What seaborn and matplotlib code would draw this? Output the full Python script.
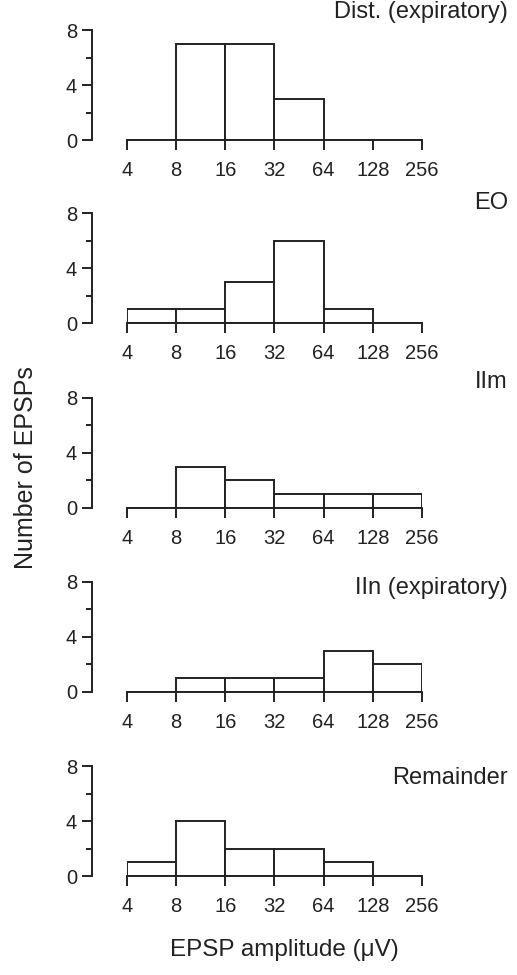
import numpy as np
import pandas as pd
import seaborn as sns
import matplotlib.pyplot as plt
from matplotlib.ticker import MultipleLocator

# bin edges as powers of two (EPSP amplitude, uV)
edge_labels = ["4", "8", "16", "32", "64", "128", "256"]
exponents = [2, 3, 4, 5, 6, 7, 8]

# counts per bin [4-8, 8-16, 16-32, 32-64, 64-128, 128-256]
panels = ["Dist. (expiratory)", "EO", "IIm", "IIn (expiratory)", "Remainder"]
dist_counts = [0, 7, 7, 3, 0, 0]
eo_counts = [1, 1, 3, 6, 1, 0]
iim_counts = [0, 3, 2, 1, 1, 1]
iin_counts = [0, 1, 1, 1, 3, 2]
rem_counts = [1, 4, 2, 2, 1, 0]
all_counts = [dist_counts, eo_counts, iim_counts, iin_counts, rem_counts]

sns.set_style("ticks")
plt.rcParams["font.family"] = ["Liberation Sans", "DejaVu Sans"]

fig = plt.figure(figsize=(5.17, 9.75), dpi=100)

# bottom of each panel (figure fraction) and label heights (axes fraction)
bottoms = [0.8564, 0.6687, 0.4790, 0.2903, 0.1015]
label_y = [1.164, 1.09, 1.145, 0.945, 0.89]

centers = [(a + b) / 2 for a, b in zip(exponents[:-1], exponents[1:])]
lw = 1.4

for name, counts, b, ly in zip(panels, all_counts, bottoms, label_y):
    ax = fig.add_axes([0.2456, b, 0.5706, 0.1128])
    df = pd.DataFrame({"bin": centers, "n": counts})
    sns.histplot(data=df, x="bin", weights="n", bins=exponents, ax=ax,
                 color="white", edgecolor="#222222", linewidth=lw, alpha=1)
    ax.set_xlim(2, 8)
    ax.set_ylim(0, 8)
    ax.set_xticks(exponents)
    ax.set_xticklabels(edge_labels)
    ax.set_yticks([0, 4, 8])
    ax.set_yticklabels(["0", "4", "8"])
    ax.yaxis.set_minor_locator(MultipleLocator(2))
    ax.tick_params(axis="x", direction="out", length=7, width=lw, pad=8,
                   labelsize=14.5, colors="#222222")
    ax.tick_params(axis="y", which="major", direction="out", length=7,
                   width=lw, pad=4, labelsize=14.5, colors="#222222")
    ax.tick_params(axis="y", which="minor", direction="out", length=4.5,
                   width=lw, colors="#222222")
    sns.despine(ax=ax)
    ax.spines["left"].set_position(("outward", 25))
    for s in ["left", "bottom"]:
        ax.spines[s].set_linewidth(lw)
        ax.spines[s].set_color("#222222")
    ax.set_xlabel("")
    ax.set_ylabel("")
    ax.patch.set_alpha(0)
    ax.text(1.291, ly, name, transform=ax.transAxes, ha="right", va="center",
            fontsize=17, color="#222222")

fig.text(0.05, 0.52, "Number of EPSPs", rotation=90, ha="center", va="center",
         fontsize=18, color="#222222")
fig.text(0.55, 0.026, "EPSP amplitude (\u03bcV)", ha="center", va="center",
         fontsize=17.5, color="#222222")

fig.savefig("out.png", dpi=100)
